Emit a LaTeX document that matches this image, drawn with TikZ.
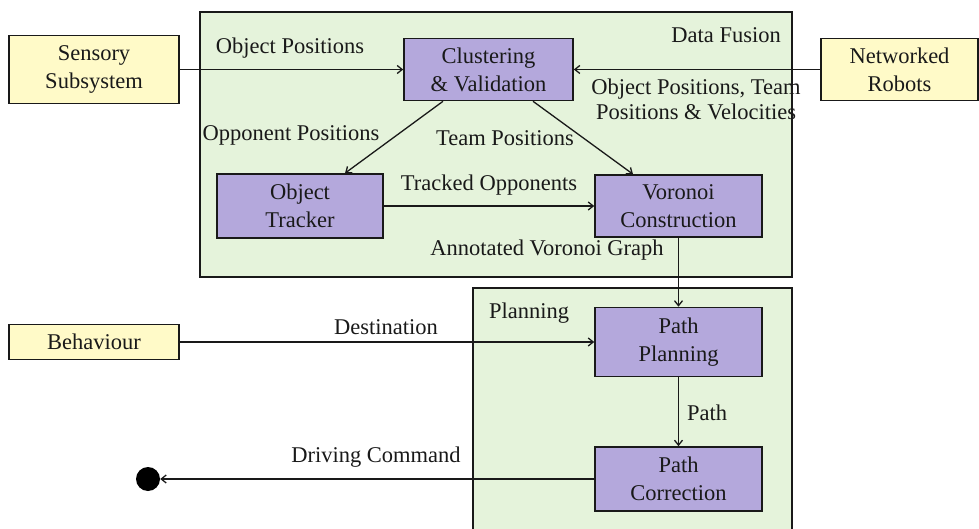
\documentclass[tikz,border=0pt]{standalone}
\usepackage{fontspec}
\setmainfont{Liberation Serif}
\usetikzlibrary{arrows.meta}
\definecolor{boxyellow}{RGB}{255,250,200}
\definecolor{boxpurple}{RGB}{180,168,220}
\definecolor{regiongreen}{RGB}{229,243,219}
\definecolor{inkcol}{RGB}{25,25,25}
\begin{document}
\begin{tikzpicture}[x=1pt,y=-1pt,
  font=\fontsize{22.5}{28}\selectfont, text=inkcol,
  region/.style={draw=inkcol, line width=1.6pt, fill=regiongreen},
  extbox/.style={draw=inkcol, line width=1.6pt, fill=boxyellow, align=center, inner sep=0pt},
  procbox/.style={draw=inkcol, line width=1.6pt, fill=boxpurple, align=center, inner sep=0pt, minimum width=167pt},
  lbl/.style={inner sep=0pt, align=center},
  arr/.style={draw=inkcol, line width=1.3pt, -{Straight Barb[length=5pt,width=8pt]}}]
\useasboundingbox (0,0) rectangle (979,529);
% regions
\draw[region] (200,12) rectangle (792,277);
\draw[region] (473,288) rectangle (792,540);
% nodes
\node[extbox, minimum width=170pt, minimum height=68pt] (sens) at (94,69.5) {Sensory\\Subsystem};
\node[procbox, minimum width=169pt, minimum height=62pt] (clus) at (488.5,69.5) {Clustering\\\& Validation};
\node[extbox, minimum width=157pt, minimum height=62pt] (net) at (899.5,69.5) {Networked\\Robots};
\node[procbox, minimum width=166pt, minimum height=64pt] (trk) at (300,206) {Object\\Tracker};
\node[procbox, minimum height=62pt] (vor) at (678.5,206) {Voronoi\\Construction};
\node[procbox, minimum height=69pt] (pp) at (678.5,342) {Path\\Planning};
\node[procbox, minimum height=64pt] (pc) at (678.5,479) {Path\\Correction};
\node[extbox, minimum width=170pt, minimum height=35pt] (beh) at (94,342) {Behaviour};
\node[circle, fill=black, inner sep=0pt, minimum size=24pt] (dot) at (148,479) {};
% connectors
\draw[arr] (sens.east) -- (clus.west);
\draw[arr] (net.west) -- (clus.east);
\draw[arr] ([xshift=-45.5pt]clus.south) -- ([xshift=45pt]trk.north);
\draw[arr] ([xshift=44.5pt]clus.south) -- ([xshift=-45.5pt]vor.north);
\draw[arr] (trk.east) -- (vor.west);
\draw[arr] (vor.south) -- (pp.north);
\draw[arr] (pp.south) -- (pc.north);
\draw[arr] (beh.east) -- (pp.west);
\draw[arr] (pc.west) -- (dot);
% labels
\node[lbl] (l1) at (290,48) {Object Positions};
\node[lbl] (l2) at (291,135) {Opponent Positions};
\node[lbl] (l3) at (505,138) {Team Positions};
\node[lbl] (l4) at (489,185) {Tracked Opponents};
\node[lbl] (l5) at (547,250) {Annotated Voronoi Graph};
\node[lbl, font=\fontsize{22.5}{25}\selectfont] (l6) at (696,99.5) {Object Positions, Team\\Positions \& Velocities};
\node[lbl, anchor=east] (l7) at (781,35) {Data Fusion};
\node[lbl] (l8) at (529,313) {Planning};
\node[lbl] (l9) at (707,413) {Path};
\node[lbl] (l10) at (386,327) {Destination};
\node[lbl] (l11) at (376,457) {Driving Command};
\end{tikzpicture}
\end{document}
